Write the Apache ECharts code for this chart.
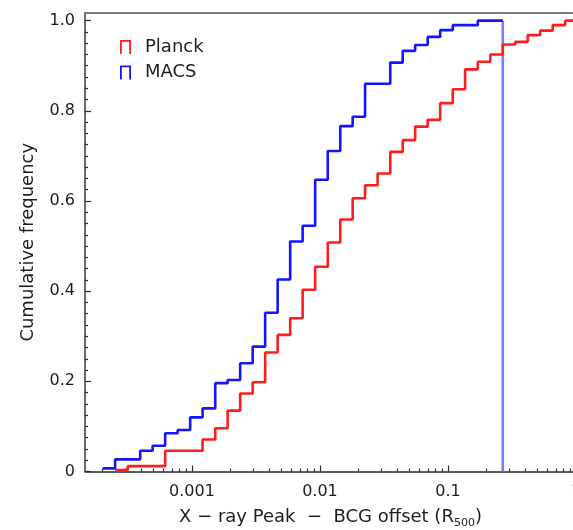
<!DOCTYPE html>
<html>
<head>
<meta charset="utf-8">
<script src="https://cdn.jsdelivr.net/npm/echarts@6/dist/echarts.min.js"></script>
<style>
  html, body { margin: 0; padding: 0; background: #fff; }
  #chart { width: 573px; height: 530px; }
</style>
</head>
<body>
<div id="chart"></div>
<script>
// Edges of the logarithmic offset bins (R500 units)
const binEdges = [
  0.000201, 0.000251, 0.000315, 0.000394, 0.000493, 0.000617, 0.000773, 0.000968,
  0.00121, 0.00152, 0.0019, 0.00238, 0.00298, 0.00373, 0.00467, 0.00585,
  0.00732, 0.00917, 0.0115, 0.0144, 0.018, 0.0225, 0.0282, 0.0354,
  0.0443, 0.0554, 0.0694, 0.0869, 0.109, 0.136, 0.171, 0.214,
  0.268, 0.335, 0.419, 0.525, 0.658, 0.823, 1.03
];

// Cumulative fraction reached from each bin edge onwards
const planckCum = [
  null, 0.003, 0.012, 0.012, 0.012, 0.046, 0.046, 0.046,
  0.071, 0.096, 0.135, 0.173, 0.198, 0.264, 0.303, 0.340,
  0.403, 0.454, 0.508, 0.559, 0.606, 0.635, 0.661, 0.709,
  0.735, 0.765, 0.780, 0.817, 0.848, 0.892, 0.909, 0.925,
  0.947, 0.953, 0.968, 0.978, 0.990, 1.000, 1.000
];
const macsCum = [
  0.007, 0.027, 0.027, 0.046, 0.057, 0.085, 0.092, 0.120,
  0.140, 0.196, 0.203, 0.240, 0.277, 0.352, 0.426, 0.510,
  0.545, 0.647, 0.711, 0.766, 0.787, 0.860, 0.860, 0.907,
  0.933, 0.946, 0.964, 0.979, 0.990, 0.990, 1.000, 1.000,
  1.000
];
// Upper edge of the last MACS bin, where its curve drops back to zero
const macsEdge = 0.268;

// Axis ticks and labels
const xMajorTicks = [0.001, 0.01, 0.1, 1];
const xMinorTicks = [
  0.0002, 0.0003, 0.0004, 0.0005, 0.0006, 0.0007, 0.0008, 0.0009,
  0.002, 0.003, 0.004, 0.005, 0.006, 0.007, 0.008, 0.009,
  0.02, 0.03, 0.04, 0.05, 0.06, 0.07, 0.08, 0.09,
  0.2, 0.3, 0.4, 0.5, 0.6, 0.7, 0.8, 0.9
];
const yMajorTicks = [0, 0.2, 0.4, 0.6, 0.8, 1.0];
const yMinorTicks = [
  0.025, 0.05, 0.075, 0.1, 0.125, 0.15, 0.175,
  0.225, 0.25, 0.275, 0.3, 0.325, 0.35, 0.375,
  0.425, 0.45, 0.475, 0.5, 0.525, 0.55, 0.575,
  0.625, 0.65, 0.675, 0.7, 0.725, 0.75, 0.775,
  0.825, 0.85, 0.875, 0.9, 0.925, 0.95, 0.975
];

const X_MIN = 0.000146, X_MAX = 1;
const Y_MIN = 0, Y_MAX = 1.017;

const FONT = 'DejaVu Sans';
const TEXT = '#1e1e1e';
const RED = '#ff1c1c';
const BLUE = '#1414ff';

function steps(cum) {
  const pts = [];
  cum.forEach((v, i) => { if (v !== null) pts.push([binEdges[i], v]); });
  return pts;
}

const legendIcon = 'path://M0,14L0,0L11,0L11,14L9.2,14L9.2,1.8L1.8,1.8L1.8,14Z';

const chart = echarts.init(document.getElementById('chart'), null, { renderer: 'canvas' });

chart.setOption({
  animation: false,
  backgroundColor: '#fff',
  grid: { left: 85, right: -3, top: 13, bottom: 58.5, containLabel: false, outerBoundsMode: 'none' },
  legend: {
    data: [
      { name: 'Planck', icon: legendIcon },
      { name: 'MACS', icon: legendIcon }
    ],
    orient: 'vertical',
    left: 115,
    top: 33,
    itemWidth: 11,
    itemHeight: 14,
    itemGap: 7.5,
    textStyle: { fontFamily: FONT, fontSize: 18, color: TEXT, padding: [0, 0, 0, 9] }
  },
  xAxis: [
    {
      type: 'log',
      min: X_MIN, max: X_MAX,
      position: 'bottom',
      name: '{a|X − ray Peak  −  BCG offset (R}{s|500}{a|)}',
      nameLocation: 'middle',
      nameGap: 35,
      nameTextStyle: {
        rich: {
          a: { fontFamily: FONT, fontSize: 18, color: TEXT, lineHeight: 22 },
          s: { fontFamily: FONT, fontSize: 11, color: TEXT, lineHeight: 22, verticalAlign: 'bottom', padding: [7, 0, 0, 0] }
        }
      },
      axisLine: { show: true, lineStyle: { color: '#2a2a2a', width: 1.5 } },
      axisTick: { show: true, inside: true, length: 6, customValues: xMajorTicks, lineStyle: { color: '#2a2a2a', width: 1.2 } },
      axisLabel: {
        customValues: xMajorTicks,
        margin: 12,
        fontFamily: FONT, fontSize: 16, color: TEXT,
        formatter: v => String(v)
      },
      splitLine: { show: false },
      minorTick: { show: false }
    },
    {
      type: 'log',
      min: X_MIN, max: X_MAX,
      position: 'bottom',
      axisLine: { show: false },
      axisTick: { show: true, inside: true, length: 3, customValues: xMinorTicks, lineStyle: { color: '#2a2a2a', width: 1.2 } },
      axisLabel: { show: false },
      splitLine: { show: false }
    },
    {
      type: 'log',
      min: X_MIN, max: X_MAX,
      position: 'top',
      axisLine: { show: true, lineStyle: { color: '#7c7c7c', width: 1.8 } },
      axisTick: { show: false },
      axisLabel: { show: false },
      splitLine: { show: false }
    }
  ],
  yAxis: [
    {
      type: 'value',
      min: Y_MIN, max: Y_MAX,
      position: 'left',
      name: 'Cumulative frequency',
      nameLocation: 'middle',
      nameGap: 48,
      nameTextStyle: { fontFamily: FONT, fontSize: 18, color: TEXT },
      axisLine: { show: true, lineStyle: { color: '#3a3a3a', width: 1.5 } },
      axisTick: { show: true, inside: true, length: 6, customValues: yMajorTicks, lineStyle: { color: '#2a2a2a', width: 1.2 } },
      axisLabel: {
        customValues: yMajorTicks,
        margin: 10,
        fontFamily: FONT, fontSize: 16, color: TEXT,
        formatter: v => (v === 0 ? '0' : v.toFixed(1))
      },
      splitLine: { show: false }
    },
    {
      type: 'value',
      min: Y_MIN, max: Y_MAX,
      position: 'left',
      axisLine: { show: false },
      axisTick: { show: true, inside: true, length: 3, customValues: yMinorTicks, lineStyle: { color: '#2a2a2a', width: 1.2 } },
      axisLabel: { show: false },
      splitLine: { show: false }
    }
  ],
  series: [
    {
      name: 'Planck',
      type: 'line',
      step: 'end',
      xAxisIndex: 0, yAxisIndex: 0,
      data: steps(planckCum),
      showSymbol: false, symbol: 'none',
      clip: true,
      lineStyle: { color: RED, width: 2.6 },
      itemStyle: { color: RED },
      z: 3
    },
    {
      name: 'MACS',
      type: 'line',
      step: 'end',
      xAxisIndex: 0, yAxisIndex: 0,
      data: steps(macsCum),
      showSymbol: false, symbol: 'none',
      clip: true,
      lineStyle: { color: BLUE, width: 2.6 },
      itemStyle: { color: BLUE },
      z: 4
    },
    {
      name: 'MACS edge',
      type: 'line',
      xAxisIndex: 0, yAxisIndex: 0,
      data: [[macsEdge, macsCum[macsCum.length - 1]], [macsEdge, 0]],
      showSymbol: false, symbol: 'none',
      lineStyle: { color: '#7a7aff', width: 2.6 },
      itemStyle: { color: '#7a7aff' },
      z: 2
    }
  ]
});
</script>
</body>
</html>
